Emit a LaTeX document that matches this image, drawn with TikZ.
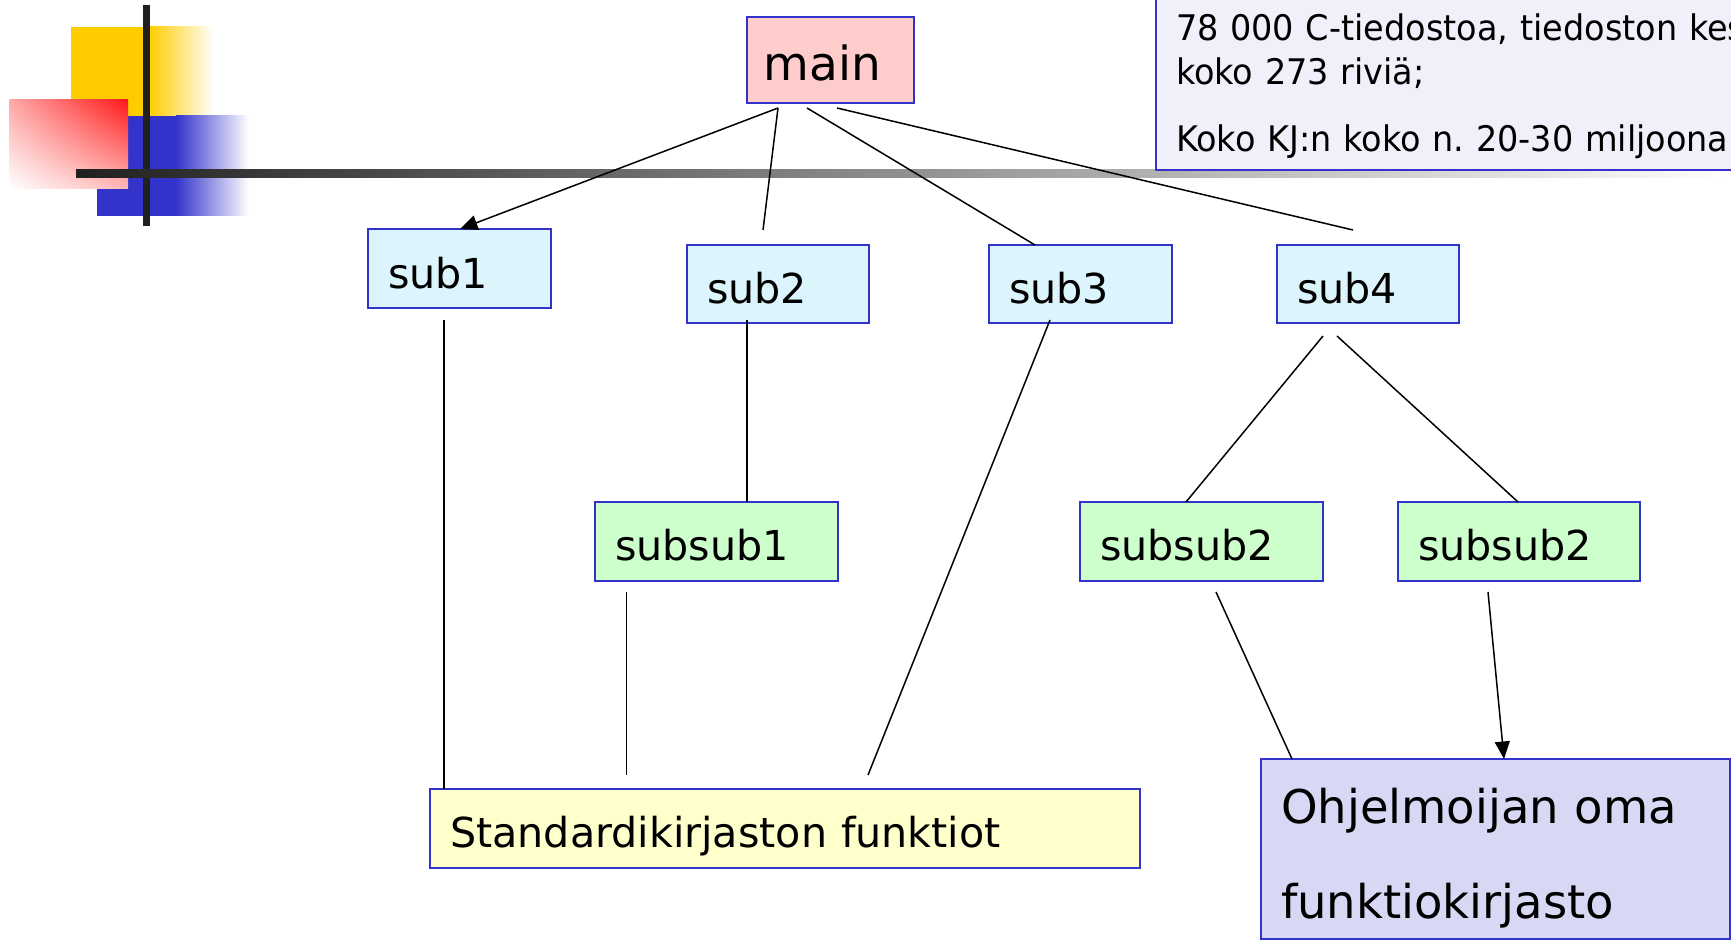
\documentclass[tikz,border=0pt]{standalone}
\usepackage{fontspec}
\setmainfont{DejaVu Sans}
\newfontfamily\infofont[FakeStretch=0.95]{DejaVu Sans}
\usetikzlibrary{arrows.meta,calc,shadings}
\definecolor{bordercol}{HTML}{3333CC}
\definecolor{mainfill}{HTML}{FFCCCC}
\definecolor{subfill}{HTML}{DCF4FC}
\definecolor{subsubfill}{HTML}{CCFFCC}
\definecolor{stdfill}{HTML}{FFFFCC}
\definecolor{ownfill}{HTML}{D8D8F4}
\definecolor{infofill}{HTML}{F0F0FB}
\definecolor{ylw}{HTML}{FFCC00}
\definecolor{blu}{HTML}{3333CC}
\definecolor{redc}{HTML}{FF1818}
\definecolor{pinkA}{HTML}{FFA8A8}
\definecolor{pinkB}{HTML}{FFB8B8}
\definecolor{barcol}{HTML}{202020}
\tikzset{
  box/.style={draw=bordercol, line width=0.8pt, anchor=north west, inner xsep=8pt,
    inner ysep=0pt, outer sep=0pt, align=left, font=\fontsize{16.5}{20}\selectfont},
  conn/.style={draw=black, line width=0.6pt},
  tip/.style={-{Triangle[length=7pt,width=6pt]}}
}
\begin{document}
\begin{tikzpicture}[x=0.4pt,y=-0.4pt]
\useasboundingbox (0,0) rectangle (1731,945);
\clip (0,0) rectangle (1731,945);
% logo
\fill[ylw] (71,27) rectangle (149,116);
\shade[left color=ylw, right color=white] (149,27) rectangle (214,116);
\fill[blu] (97,116) rectangle (176,216);
\shade[left color=blu, right color=white] (176,116) rectangle (249,216);
\shade[upper left=pinkA, upper right=redc, lower left=white, lower right=pinkB] (9.6,100) rectangle (128,189);
\fill[barcol] (143,5) rectangle (149.5,226);
\shade[left color=barcol, right color=white] (76,170) rectangle (1731,178);
% info box
\node[box, fill=infofill, text width=304pt, text height=20.4pt, text depth=51.6pt,
  font=\infofont\fontsize{14.1}{17.6}\selectfont] (info) at (1156,-10)
  {78 000 C-tiedostoa, tiedoston kes\\koko 273 riviä;\\[9.2pt]Koko KJ:n koko n.\ 20-30 miljoona};
% boxes
\node[box, fill=mainfill, inner xsep=6.7pt, text width=53.4pt, text height=25.6pt, text depth=8.8pt,
  font=\fontsize{18.8}{22}\selectfont] (main) at (747,17) {main};
\node[box, fill=subfill, text width=57.2pt, text height=23.6pt, text depth=8pt] (sub1) at (368,229) {sub1};
\node[box, fill=subfill, text width=56.8pt, text height=23.2pt, text depth=8pt] (sub2) at (687,245) {sub2};
\node[box, fill=subfill, text width=57.2pt, text height=23.2pt, text depth=8pt] (sub3) at (989,245) {sub3};
\node[box, fill=subfill, text width=56.8pt, text height=23.2pt, text depth=8pt] (sub4) at (1277,245) {sub4};
\node[box, fill=subsubfill, text width=81.2pt, text height=23.2pt, text depth=8.4pt] (ss1) at (595,502) {subsub1};
\node[box, fill=subsubfill, text width=81.2pt, text height=23.2pt, text depth=8.4pt] (ss2a) at (1080,502) {subsub2};
\node[box, fill=subsubfill, text width=80.8pt, text height=23.2pt, text depth=8.4pt] (ss2b) at (1398,502) {subsub2};
\node[box, fill=stdfill, text width=268pt, text height=23.2pt, text depth=8.4pt] (std) at (430,789) {Standardikirjaston funktiot};
\node[box, fill=ownfill, text width=171.6pt, text height=25.6pt, text depth=46.4pt,
  font=\fontsize{18.6}{38}\selectfont] (own) at (1261,759) {Ohjelmoijan oma\\funktiokirjasto};
% connectors
\draw[conn, tip] ($(main.south west)+(31,5)$) -- ($(sub1.north west)+(92,0)$);
\draw[conn] ($(main.south west)+(31,5)$) -- ($(sub2.north west)+(76,-15)$);
\draw[conn] ($(main.south west)+(60,5)$) -- ($(sub3.north west)+(46,0)$);
\draw[conn] ($(main.south west)+(90,5)$) -- ($(sub4.north west)+(76,-15)$);
\draw[conn] ($(sub1.south west)+(76,12)$) -- ($(std.north west)+(14,0)$);
\draw[conn] ($(sub2.south west)+(60,-3)$) -- ($(ss1.north west)+(152,0)$);
\draw[conn] ($(sub3.south west)+(61,-3)$) -- ($(std.north west)+(438,-14)$);
\draw[conn] ($(sub4.south west)+(46,13)$) -- ($(ss2a.north west)+(106,0)$);
\draw[conn] ($(sub4.south west)+(60,13)$) -- ($(ss2b.north west)+(120,0)$);
\draw[conn] ($(ss1.south west)+(31.5,11)$) -- ($(std.north west)+(196.5,-14)$);
\draw[conn] ($(ss2a.south west)+(136,11)$) -- ($(own.north west)+(31,0)$);
\draw[conn, tip] ($(ss2b.south west)+(90,11)$) -- ($(own.north west)+(243,0)$);
\end{tikzpicture}
\end{document}
